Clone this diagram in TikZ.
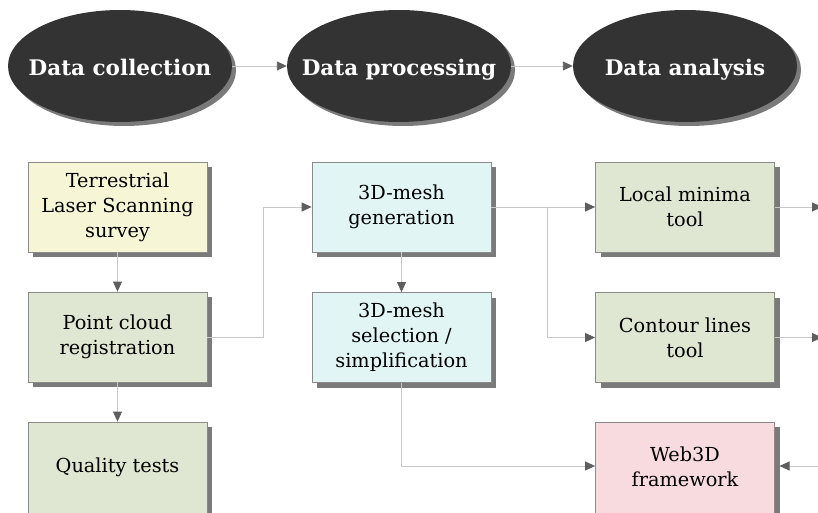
\documentclass[tikz,border=0pt]{standalone}
\usepackage{fontspec}
\setmainfont{DejaVu Serif}
\usetikzlibrary{shapes.geometric,shadows,arrows.meta,positioning}
\definecolor{ellfill}{HTML}{333333}
\definecolor{shadowgray}{HTML}{7A7A7A}
\definecolor{boxborder}{HTML}{8A8A8A}
\definecolor{linegray}{HTML}{C8C8C8}
\definecolor{tipgray}{HTML}{5E5E5E}
\definecolor{yellowfill}{HTML}{F6F6D6}
\definecolor{greenfill}{HTML}{DFE6D1}
\definecolor{cyanfill}{HTML}{E1F5F5}
\definecolor{pinkfill}{HTML}{F7DBDF}
\tikzset{
  phase/.style={ellipse, fill=ellfill, text=white, minimum width=224pt, minimum height=112pt,
    inner sep=0pt, text height=19.7pt, text depth=0pt, font=\fontsize{21.5}{26}\selectfont\bfseries,
    drop shadow={shadow xshift=4pt, shadow yshift=-4pt, fill=shadowgray, opacity=1}},
  stepbox/.style={rectangle, draw=boxborder, line width=0.8pt, minimum width=179pt, minimum height=90pt,
    align=center, inner sep=2pt, font=\fontsize{19.3}{25}\selectfont,
    drop shadow={shadow xshift=5pt, shadow yshift=-5pt, fill=shadowgray, opacity=1}},
  tallbox/.style={stepbox, minimum height=110pt},
  conn/.style={draw=linegray, line width=0.9pt, -{Triangle[length=10pt,width=9pt,color=tipgray]}},
}
\begin{document}
\begin{tikzpicture}[x=1pt,y=-1pt]
\useasboundingbox (0,0) rectangle (818,513);
% phases
\node[phase] (dc) at (120,66) {\makebox[0pt]{Data collection}};
\node[phase] (dp) at (399,66) {\makebox[0pt]{Data processing}};
\node[phase] (da) at (685,66) {\makebox[0pt]{Data analysis}};
% boxes
\node[stepbox, fill=yellowfill] (tls) at (117.5,207) {Terrestrial\\Laser Scanning\\survey};
\node[stepbox, fill=greenfill] (pcr) at (117.5,337) {Point cloud\\registration};
\node[tallbox, fill=greenfill] (qt) at (117.5,477) {\raisebox{10pt}[\height][\depth]{Quality tests}};
\node[stepbox, fill=cyanfill] (mg) at (401.5,207) {3D-mesh\\generation};
\node[stepbox, fill=cyanfill] (ms) at (401.5,337.5) {3D-mesh\\selection /\\simplification};
\node[stepbox, fill=greenfill] (lm) at (685,207) {Local minima\\tool};
\node[stepbox, fill=greenfill] (cl) at (685,337.5) {Contour lines\\tool};
\node[tallbox, fill=pinkfill] (web) at (685,477) {\raisebox{8pt}[\height][\depth]{\begin{tabular}{@{}c@{}}Web3D\\framework\end{tabular}}};
% coordinates for free ends
\coordinate (lmout) at (822,207);
\coordinate (clout) at (822,337.5);
\coordinate (webin) at (830,466);
\coordinate (webtip) at (779.5,466);
\coordinate (br) at (547,207);
\coordinate (webleft) at ([yshift=11pt]web.west);
% connectors
\draw[conn] (dc) -- (dp);
\draw[conn] (dp) -- (da);
\draw[conn] (tls) -- (pcr);
\draw[conn] (pcr) -- (qt);
\draw[conn] (pcr.east) -| (263,207) -- (mg.west);
\draw[conn] (mg) -- (ms);
\draw[conn] (mg.east) -- (lm.west);
\draw[conn] (br) |- (cl.west);
\draw[conn] (ms.south) |- (webleft);
\draw[conn] (lm.east) -- (lmout);
\draw[conn] (cl.east) -- (clout);
\draw[conn] (webin) -- (webtip);
\end{tikzpicture}
\end{document}
